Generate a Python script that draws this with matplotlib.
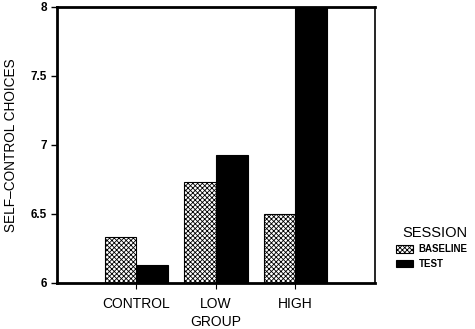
import matplotlib
matplotlib.use("Agg")
import matplotlib.pyplot as plt
import numpy as np
from matplotlib.ticker import FuncFormatter

plt.rcParams['font.family'] = ['Liberation Sans', 'DejaVu Sans']
plt.rcParams['hatch.linewidth'] = 0.6

groups = ["CONTROL", "LOW", "HIGH"]
baseline = [6.33, 6.73, 6.50]
test = [6.13, 6.93, 8.00]
y_ticks = [6, 6.5, 7, 7.5, 8]

fig = plt.figure(figsize=(4.75, 3.29), dpi=100)
ax = fig.add_axes([0.12, 0.14, 0.669, 0.839])

x = np.arange(len(groups))
w = 0.4
ax.bar(x - w / 2, baseline, width=w, color="white", edgecolor="black",
       hatch="xxxxxxx", linewidth=0.8, label="BASELINE")
ax.bar(x + w / 2, test, width=w, color="black", edgecolor="black",
       linewidth=0.8, label="TEST")

ax.set_xlim(-1, 3)
ax.set_ylim(6, 8)
ax.set_yticks(y_ticks)
ax.yaxis.set_major_formatter(FuncFormatter(lambda v, p: f"{v:g}"))
ax.set_xticks(x)
ax.set_xticklabels(groups, fontsize=10)
for lbl in ax.get_yticklabels():
    lbl.set_fontweight("bold")
    lbl.set_fontsize(8.5)

ax.tick_params(axis="y", direction="out", length=4, width=1, pad=3)
ax.tick_params(axis="x", direction="out", length=4, width=0.8, pad=6)

for side in ["left", "bottom", "top"]:
    ax.spines[side].set_linewidth(2)
ax.spines["right"].set_linewidth(1.2)

ax.set_ylabel("SELF\u2013CONTROL CHOICES", fontsize=9.8, labelpad=9)
ax.set_xlabel("GROUP", fontsize=10, labelpad=3)

leg = fig.legend(*ax.get_legend_handles_labels(), title="SESSION",
                 loc="lower right", bbox_to_anchor=(0.995, 0.168),
                 bbox_transform=fig.transFigure,
                 frameon=False, fontsize=7, title_fontsize=10.5,
                 handlelength=1.7, handleheight=0.8, handletextpad=0.6,
                 labelspacing=0.45, borderpad=0.0)
for t in leg.get_texts():
    t.set_fontweight("bold")
leg._legend_box.align = "right"

fig.savefig("out.png", dpi=100)
